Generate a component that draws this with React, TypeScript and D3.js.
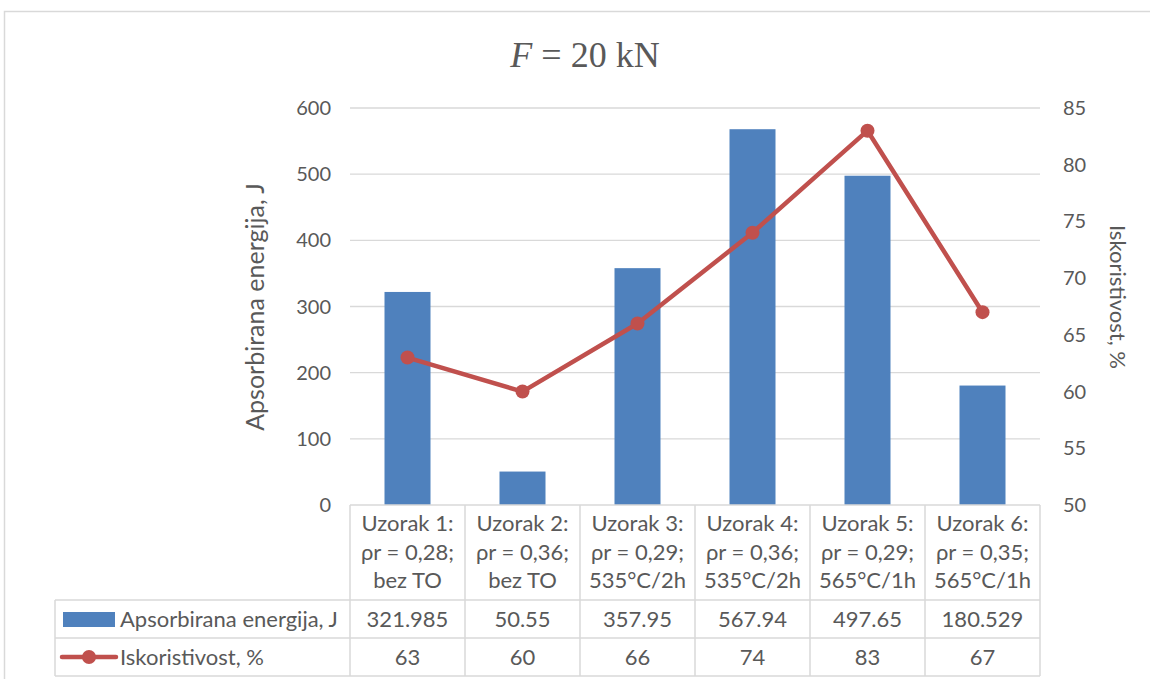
import React from "react";
import * as d3 from "d3";

const categories = [
  ["Uzorak 1:", "ρr = 0,28;", "bez TO"],
  ["Uzorak 2:", "ρr = 0,36;", "bez TO"],
  ["Uzorak 3:", "ρr = 0,29;", "535°C/2h"],
  ["Uzorak 4:", "ρr = 0,36;", "535°C/2h"],
  ["Uzorak 5:", "ρr = 0,29;", "565°C/1h"],
  ["Uzorak 6:", "ρr = 0,35;", "565°C/1h"],
];
const energy = [321.985, 50.55, 357.95, 567.94, 497.65, 180.529];
const efficiency = [63, 60, 66, 74, 83, 67];
const leftTicks = [0, 100, 200, 300, 400, 500, 600];
const rightTicks = [50, 55, 60, 65, 70, 75, 80, 85];
const seriesNames = ["Apsorbirana energija, J", "Iskoristivost, %"];

const W = 1150, H = 679;
const plotL = 350, plotR = 1040, plotT = 108, plotB = 505;
const BAR = "#4F81BD", LINE = "#C0504D", GRID = "#D9D9D9", TXT = "#595959";
const FONT = "Lato, 'Open Sans', sans-serif";

export default function App() {
  const idx = categories.map((_, i) => String(i));
  const x = d3.scaleBand().domain(idx).range([plotL, plotR]).paddingInner(0.6).paddingOuter(0.3);
  const xc = d3.scaleBand().domain(idx).range([plotL, plotR]);
  const yL = d3.scaleLinear().domain([0, 600]).range([plotB, plotT]);
  const yR = d3.scaleLinear().domain([50, 85]).range([plotB, plotT]);
  const cx = (i: number) => xc(String(i))! + xc.bandwidth() / 2;
  const line = d3.line<number>().x((_, i) => cx(i)).y((d) => yR(d));
  const row1T = 600, row2T = 638, row3B = 676, tableL = 55;

  return (
    <div style={{ position: "absolute", left: 0, top: 0 }}>
      <svg width={W} height={H} style={{ display: "block", background: "#fff" }}>
        <path d={`M4.5,${H} V11.5 H${W}`} fill="none" stroke={GRID} strokeWidth={1.5} />
        <text x={585} y={67} textAnchor="middle" fontFamily="'Liberation Serif', serif" fontSize={36} fill={TXT}>
          <tspan fontStyle="italic">F</tspan> = 20 kN
        </text>
        {leftTicks.map((t) => (
          <g key={"l" + t}>
            {t > 0 && <line x1={plotL} x2={plotR} y1={yL(t)} y2={yL(t)} stroke={GRID} strokeWidth={1.3} />}
            <text x={331} y={yL(t) + 7} textAnchor="end" fontFamily={FONT} fontSize={20} fill={TXT}>{t}</text>
          </g>
        ))}
        {rightTicks.map((t) => (
          <text key={"r" + t} x={1063} y={yR(t) + 7} textAnchor="start" fontFamily={FONT} fontSize={20} fill={TXT}>{t}</text>
        ))}
        <text transform={`translate(264,307) rotate(-90)`} textAnchor="middle" fontFamily={FONT} fontSize={25} fill={TXT}>
          {seriesNames[0]}
        </text>
        <text transform={`translate(1110,297) rotate(90)`} textAnchor="middle" fontFamily={FONT} fontSize={22} fill={TXT}>
          {seriesNames[1]}
        </text>
        {energy.map((v, i) => (
          <rect key={"b" + i} x={x(String(i))} y={yL(v)} width={x.bandwidth()} height={plotB - yL(v)} fill={BAR} />
        ))}
        <path d={line(efficiency)!} fill="none" stroke={LINE} strokeWidth={4.5} strokeLinejoin="round" />
        {efficiency.map((v, i) => (
          <circle key={"c" + i} cx={cx(i)} cy={yR(v)} r={7} fill={LINE} />
        ))}
        <g stroke={GRID} strokeWidth={1.5} fill="none">
          <line x1={plotL} x2={plotR} y1={plotB} y2={plotB} />
          <line x1={tableL} x2={plotR} y1={row1T} y2={row1T} />
          <line x1={tableL} x2={plotR} y1={row2T} y2={row2T} />
          <line x1={tableL} x2={plotR} y1={row3B} y2={row3B} />
          <line x1={tableL} x2={tableL} y1={row1T} y2={row3B} />
          {categories.map((_, i) => (
            <line key={"v" + i} x1={xc(String(i))} x2={xc(String(i))} y1={plotB} y2={row3B} />
          ))}
          <line x1={plotR} x2={plotR} y1={plotB} y2={row3B} />
        </g>
        {categories.map((c, i) => (
          <g key={"h" + i}>
            {c.map((s, j) => (
              <text key={j} x={cx(i)} y={531 + j * 28.5} textAnchor="middle" fontFamily={FONT} fontSize={22} fill={TXT}>{s}</text>
            ))}
            <text x={cx(i)} y={627} textAnchor="middle" fontFamily={FONT} fontSize={22} fill={TXT}>{String(energy[i])}</text>
            <text x={cx(i)} y={665} textAnchor="middle" fontFamily={FONT} fontSize={22} fill={TXT}>{String(efficiency[i])}</text>
          </g>
        ))}
        <rect x={63} y={612} width={52} height={15} fill={BAR} />
        <text x={120} y={627} fontFamily={FONT} fontSize={22} fill={TXT}>{seriesNames[0]}</text>
        <line x1={62} x2={116} y1={657} y2={657} stroke={LINE} strokeWidth={4.5} strokeLinecap="round" />
        <circle cx={89} cy={657} r={7} fill={LINE} />
        <text x={120} y={665} fontFamily={FONT} fontSize={22} fill={TXT}>{seriesNames[1]}</text>
      </svg>
    </div>
  );
}
